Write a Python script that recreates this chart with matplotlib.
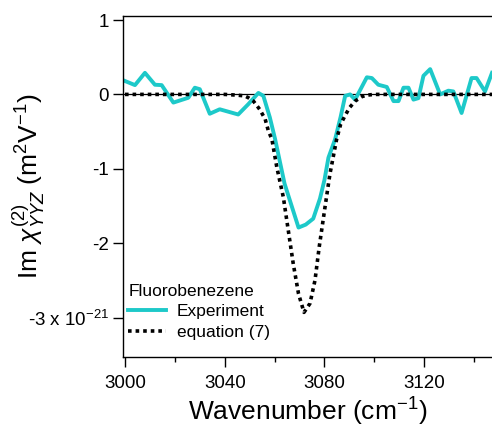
import matplotlib
matplotlib.use('Agg')
import matplotlib.pyplot as plt

plt.rcParams['font.family'] = ['Liberation Sans', 'DejaVu Sans']
plt.rcParams['mathtext.fontset'] = 'custom'
plt.rcParams['mathtext.rm'] = 'Liberation Sans'
plt.rcParams['mathtext.it'] = 'Liberation Sans:italic'

# --- Experiment ---
exp_x = [3000, 3004, 3008, 3012, 3014.7, 3019.4, 3025.4, 3028, 3030, 3034,
         3038, 3045.4, 3049.5, 3053.5, 3055.5, 3058.1, 3060.2, 3064, 3069.6,
         3072.5, 3075.5, 3078.2, 3080, 3081.6, 3084.3, 3086.5, 3088.3, 3090.3,
         3092.3, 3097, 3099, 3101.6, 3105, 3107.7, 3109.7, 3111.7, 3113.7,
         3115.7, 3117.7, 3119.7, 3122.4, 3126.4, 3129.7, 3131.7, 3135, 3139,
         3141, 3144.4, 3147.2]
exp_y = [0.18, 0.125, 0.29, 0.13, 0.125, -0.11, -0.045, 0.09, 0.07, -0.26,
         -0.2, -0.27, -0.13, 0.02, -0.02, -0.31, -0.6, -1.2, -1.79,
         -1.75, -1.67, -1.40, -1.15, -0.85, -0.6, -0.3, -0.02, 0.0,
         -0.07, 0.23, 0.22, 0.13, 0.10, -0.09, -0.09, 0.09, 0.09,
         -0.07, -0.05, 0.25, 0.34, 0.0, 0.05, 0.04, -0.25, 0.22,
         0.22, 0.04, 0.29]

# --- equation (7) ---
eq_x = [3000, 3040, 3045, 3048, 3049.5, 3051.5, 3054, 3056.2, 3057.5, 3058.9,
        3060.9, 3063.5, 3065.5, 3067.5, 3069.6, 3071.8, 3074.2, 3076.2, 3077.9,
        3080.2, 3082.2, 3084.9, 3086.5, 3088.2, 3090, 3092.3, 3095, 3097,
        3100, 3147.2]
eq_y = [0, 0, -0.01, -0.02, -0.045, -0.09, -0.2, -0.33, -0.49, -0.6,
        -0.98, -1.38, -1.83, -2.28, -2.68, -2.93, -2.81, -2.5, -2.05,
        -1.52, -1.07, -0.6, -0.4, -0.29, -0.18, -0.09, -0.03, -0.01,
        0, 0]

yticks = [1, 0, -1, -2, -3]
ytick_labels = ['1', '0', '-1', '-2', r'-3 x 10$^{-21}$']
xticks = [3000, 3040, 3080, 3120]
xminor = [3020, 3060, 3100, 3140]

fig = plt.figure(figsize=(4.92, 4.29), dpi=100)
ax = fig.add_axes([123/492, (429-357)/429, 369/492, 341/429])

ax.axhline(0, color='black', lw=0.9, zorder=1)
ax.plot(exp_x, exp_y, color='#1DC9C9', lw=2.8, label='Experiment', zorder=2)
ax.plot(eq_x, eq_y, color='black', lw=2.6, linestyle=(0, (1, 1.1)),
        label='equation (7)', zorder=3)

ax.set_xlim(2999.2, 3147.2)
ax.set_ylim(-3.53, 1.054)
ax.spines['right'].set_visible(False)
for s in ['left', 'top', 'bottom']:
    ax.spines[s].set_linewidth(1.0)

ax.set_xticks(xticks)
ax.set_xticks(xminor, minor=True)
ax.set_yticks(yticks)
ax.set_yticklabels(ytick_labels)
ax.tick_params(axis='both', which='major', direction='out', length=7,
               width=1, labelsize=13.5)
ax.tick_params(axis='x', which='major', pad=6)
ax.tick_params(axis='y', which='major', pad=3)
ax.tick_params(axis='x', which='minor', direction='out', length=3.5, width=1)

ax.set_xlabel(r'Wavenumber (cm$^{-1}$)', fontsize=19)
ax.xaxis.set_label_coords(0.5, -0.113)
ax.set_ylabel(r'Im $\chi^{(2)}_{YYZ}$ (m$^2$V$^{-1}$)', fontsize=19)
ax.yaxis.set_label_coords(-0.205, 0.5)

leg = ax.legend(title='Fluorobenezene', loc='lower left',
                bbox_to_anchor=(0.0, 0.035), frameon=False, fontsize=12.5,
                title_fontsize=12.5, handlelength=2.2, handletextpad=0.6,
                labelspacing=0.3, borderaxespad=0.2, borderpad=0.1)
leg._legend_box.align = 'left'

fig.savefig('out.png', dpi=100)
